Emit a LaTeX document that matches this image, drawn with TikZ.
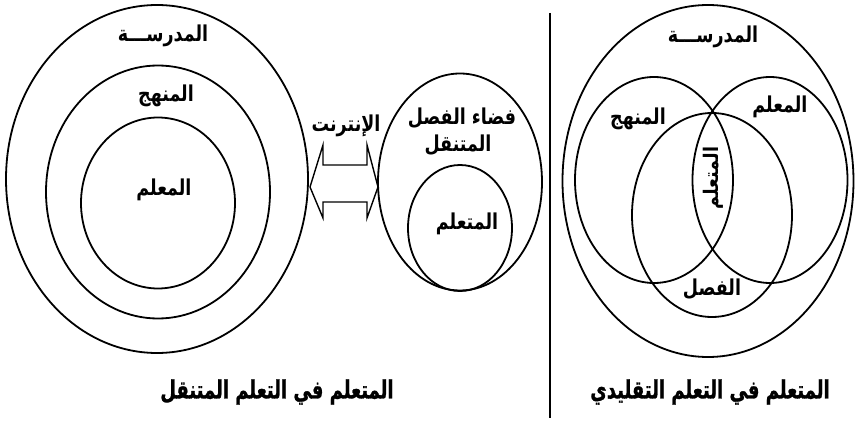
\documentclass[tikz,border=0pt]{standalone}
\usepackage{fontspec}
\usepackage{graphicx}
\newfontfamily\arabicfont[Script=Arabic]{DejaVu Sans}
\newfontfamily\arabicheavy[Script=Arabic,FakeBold=1.2]{DejaVu Sans Bold}
\TeXXeTstate=1
\usetikzlibrary{shapes.geometric}
\newcommand{\tallbox}[2]{\scalebox{1}[#1]{#2}}
\tikzset{
  ring/.style={draw, ellipse, line width=1.8pt, inner sep=0pt},
  lbl/.style={inner sep=0pt, font=\arabicfont\bfseries\fontsize{17.5}{20}\selectfont},
  caption/.style={inner sep=0pt, font=\arabicheavy\fontsize{18}{22}\selectfont},
  arrowline/.style={draw, line width=1.4pt, line join=miter},
  divider/.style={line width=2.2pt}
}
\begin{document}
\begin{tikzpicture}[x=1pt,y=-1pt]
\useasboundingbox (0,0) rectangle (855,425);
% ---------- left diagram ----------
\node[ring, minimum width=302, minimum height=348] (lschool) at (157,179) {};
\node[ring, minimum width=224, minimum height=253] (lcurr) at (158,192) {};
\node[ring, minimum width=154, minimum height=171] (lteach) at (158,203) {};
\node[lbl] (tlschool) at (163,36) {\tallbox{1.25}{\beginR المدرســـة\endR}};
\node[lbl] (tlcurr) at (166,96) {\tallbox{1.25}{\beginR المنهج\endR}};
\node[lbl] (tlteach) at (164,190) {\tallbox{1.25}{\beginR المعلم\endR}};
% ---------- mobile classroom ----------
\node[ring, minimum width=164, minimum height=217] (space) at (460,182) {};
\node[ring, minimum width=104, minimum height=126] (learner) at (460,228) {};
\node[lbl] (tspace1) at (462,118) {\tallbox{1.25}{\beginR فضاء الفصل\endR}};
\node[lbl] (tspace2) at (458,145) {\tallbox{1.25}{\beginR المتنقل\endR}};
\node[lbl] (tlearner) at (467,224) {\tallbox{1.25}{\beginR المتعلم\endR}};
% ---------- internet double arrow ----------
\coordinate (arr) at (344,182);
\draw[arrowline] ([shift={(-34,5)}]arr) -- ([shift={(-21,-37)}]arr) -- ([shift={(-21,-17)}]arr)
  -- ([shift={(23,-17)}]arr) -- ([shift={(23,-37)}]arr) -- ([shift={(34,5)}]arr)
  -- ([shift={(23,36)}]arr) -- ([shift={(23,20)}]arr) -- ([shift={(-21,20)}]arr)
  -- ([shift={(-21,36)}]arr) -- cycle;
\node[lbl] (tnet) at (346,126) {\tallbox{1.25}{\beginR الإنترنت\endR}};
% ---------- divider ----------
\coordinate (vtop) at (550,13);
\coordinate (vbot) at (550,418);
\draw[divider] (vtop) -- (vbot);
% ---------- right diagram (Venn) ----------
\node[ring, minimum width=291, minimum height=352] (rschool) at (708,181) {};
\node[ring, minimum width=158, minimum height=206] (rcurr) at (654,180) {};
\node[ring, minimum width=155, minimum height=206] (rteach) at (770,180) {};
\node[ring, minimum width=160, minimum height=204] (rclass) at (712,215) {};
\node[lbl] (trschool) at (713,37) {\tallbox{1.25}{\beginR المدرســـة\endR}};
\node[lbl] (trcurr) at (638,119) {\tallbox{1.25}{\beginR المنهج\endR}};
\node[lbl] (trteach) at (780,107) {\tallbox{1.25}{\beginR المعلم\endR}};
\node[lbl] (trclass) at (712,289) {\tallbox{1.25}{\beginR الفصل\endR}};
\node[lbl, rotate=90] (trlearner) at (713,178) {\tallbox{1.15}{\beginR المتعلم\endR}};
% ---------- captions ----------
\node[caption] (capl) at (277,392) {\tallbox{1.4}{\beginR المتعلم في التعلم المتنقل\endR}};
\node[caption] (capr) at (710,392) {\tallbox{1.4}{\beginR المتعلم في التعلم التقليدي\endR}};
\end{tikzpicture}
\end{document}
